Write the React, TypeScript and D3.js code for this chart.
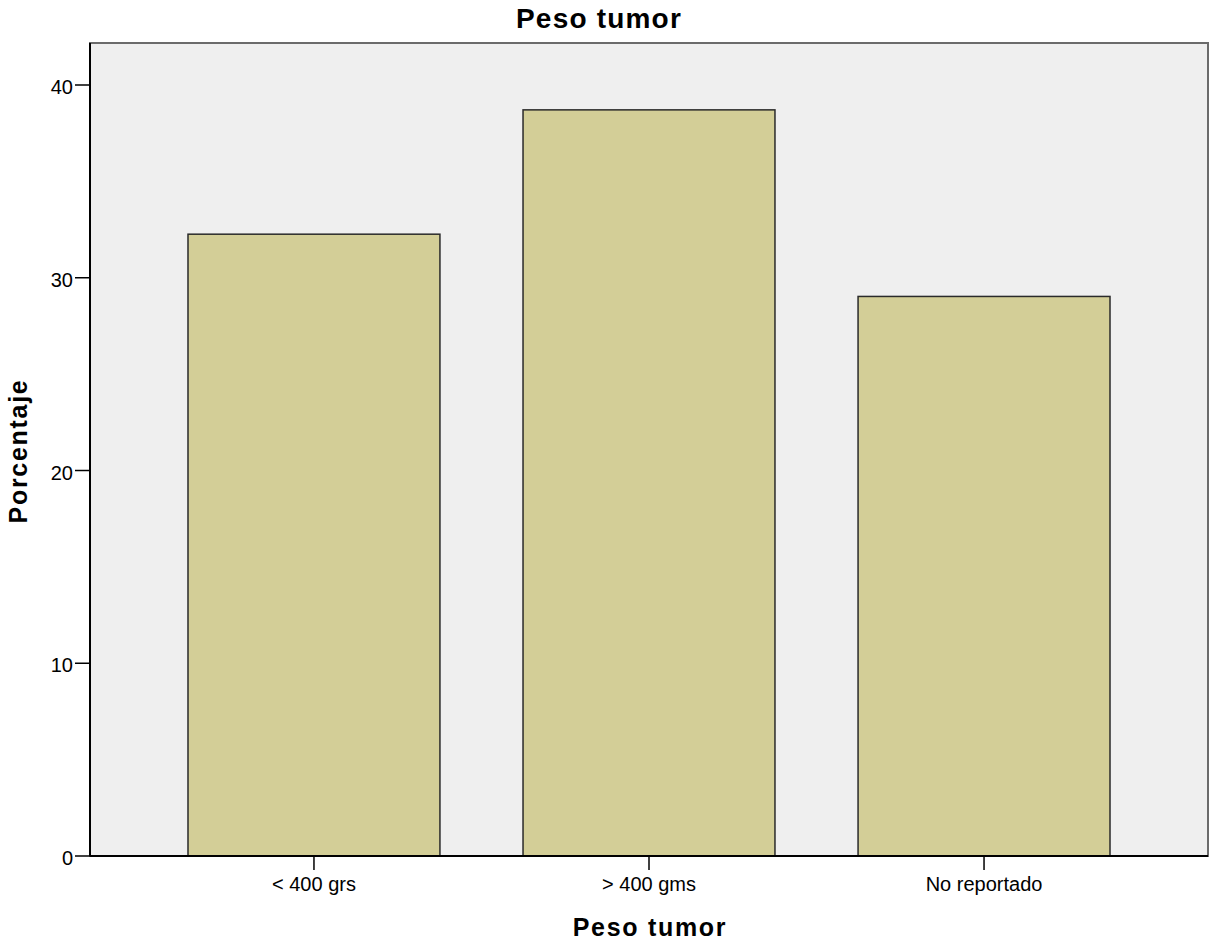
import React from "react";
import * as d3 from "d3";

const categories = ["< 400 grs", "> 400 gms", "No reportado"];
const percentages = [32.26, 38.71, 29.03];
const yTicks = [0, 10, 20, 30, 40];

const W = 1211;
const H = 945;
const left = 90;
const right = 1208;
const top = 43;
const bottom = 856;

export default function App() {
  const x = d3
    .scaleBand<string>()
    .domain(categories)
    .range([left, right])
    .paddingInner(0.248)
    .paddingOuter(0.2925);
  const y = d3.scaleLinear().domain([0, 40]).range([bottom, 85]);
  const font = "'Liberation Sans', Arial, sans-serif";

  return (
    <svg width={W} height={H} style={{ position: "absolute", left: 0, top: 0 }}>
      <rect x={0} y={0} width={W} height={H} fill="#ffffff" />
      <text x={599} y={28} textAnchor="middle" fontFamily={font} fontWeight="bold" fontSize={28} letterSpacing={1.2} fill="#000">
        Peso tumor
      </text>
      <rect x={left} y={top} width={right - left} height={bottom - top} fill="#efefef" stroke="#6b6b6b" strokeWidth={2} />
      {categories.map((c, i) => (
        <rect
          key={c}
          x={x(c)}
          y={y(percentages[i])}
          width={x.bandwidth()}
          height={bottom - y(percentages[i])}
          fill="#d3ce97"
          stroke="#2a2a2a"
          strokeWidth={1.5}
        />
      ))}
      <line x1={left} x2={left} y1={top} y2={bottom} stroke="#000" strokeWidth={2} />
      <line x1={left} x2={right} y1={bottom} y2={bottom} stroke="#000" strokeWidth={2} />
      {yTicks.map((t) => (
        <g key={t}>
          <line x1={left - 15} x2={left} y1={y(t)} y2={y(t)} stroke="#000" strokeWidth={1.5} />
          <text x={left - 17} y={y(t) + 9} textAnchor="end" fontFamily={font} fontSize={20} fill="#000">
            {t}
          </text>
        </g>
      ))}
      {categories.map((c) => {
        const cx = (x(c) as number) + x.bandwidth() / 2;
        return (
          <g key={c}>
            <line x1={cx} x2={cx} y1={bottom} y2={bottom + 14} stroke="#000" strokeWidth={1.5} />
            <text x={cx} y={bottom + 35} textAnchor="middle" fontFamily={font} fontSize={20} fill="#000">
              {c}
            </text>
          </g>
        );
      })}
      <text x={650} y={936} textAnchor="middle" fontFamily={font} fontWeight="bold" fontSize={25} letterSpacing={1.7} fill="#000">
        Peso tumor
      </text>
      <text
        transform={`translate(27, 451) rotate(-90)`}
        textAnchor="middle"
        fontFamily={font}
        fontWeight="bold"
        fontSize={25}
        letterSpacing={1.7}
        fill="#000"
      >
        Porcentaje
      </text>
    </svg>
  );
}
